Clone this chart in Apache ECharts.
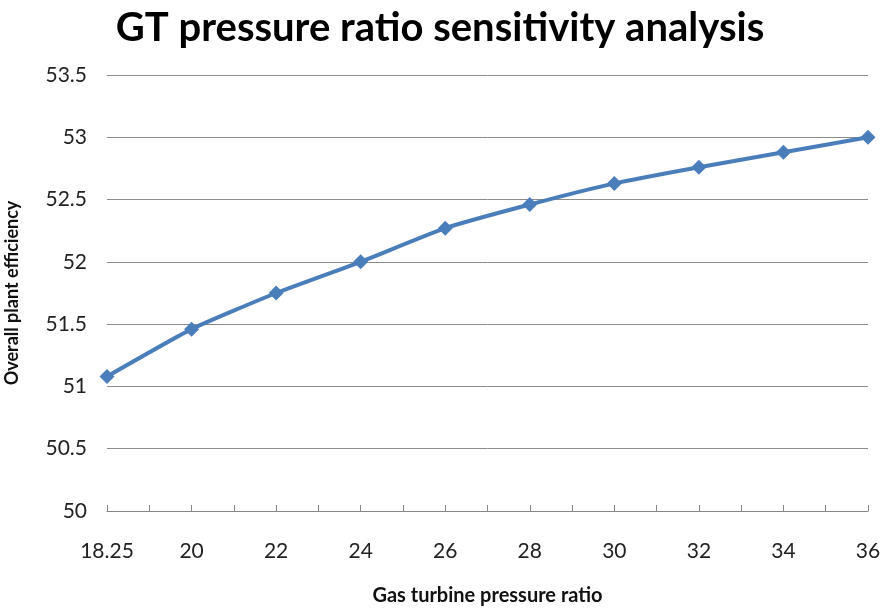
<!DOCTYPE html>
<html><head><meta charset="utf-8">
<script src="https://cdn.jsdelivr.net/npm/echarts@6/dist/echarts.min.js"></script>
<style>html,body{margin:0;padding:0;background:#fff}#c{width:880px;height:609px}</style>
</head><body><div id="c"></div>
<script>
const categories = ['18.25','20','22','24','26','28','30','32','34','36'];
const efficiency = [51.08, 51.46, 51.75, 52.0, 52.27, 52.46, 52.63, 52.76, 52.88, 53.0];
const yMin = 50, yMax = 53.5, yStep = 0.5;
const titleText = 'GT pressure ratio sensitivity analysis';
const xName = 'Gas turbine pressure ratio';
const yName = 'Overall plant efficiency';

// tick-only axis: categories plus midpoints
const tickCats = [];
categories.forEach((c, i) => { tickCats.push(c); if (i < categories.length - 1) tickCats.push(''); });

const font = 'Lato, "Open Sans", sans-serif';
const chart = echarts.init(document.getElementById('c'));
chart.setOption({
  animation: false,
  title: { text: titleText, left: 'center', top: 3,
    textStyle: { fontFamily: font, fontSize: 40, fontWeight: 'bold', color: '#000' } },
  grid: { left: 107, right: 12, top: 75, bottom: 98, outerBoundsMode: 'none', containLabel: false },
  xAxis: [{
    type: 'category', data: categories, boundaryGap: false,
    axisLine: { show: true, lineStyle: { color: '#868686', width: 1 } },
    axisTick: { show: false },
    axisLabel: { fontFamily: font, fontSize: 21, color: '#222', margin: 30 },
    name: xName, nameLocation: 'middle', nameGap: 75,
    nameTextStyle: { fontFamily: font, fontSize: 20, fontWeight: 'bold', color: '#111' }
  }, {
    type: 'category', data: tickCats, boundaryGap: false, position: 'bottom',
    axisLine: { show: false },
    axisTick: { show: true, inside: true, length: 6, lineStyle: { color: '#868686' } },
    axisLabel: { show: false }
  }],
  yAxis: {
    type: 'value', min: yMin, max: yMax, interval: yStep,
    axisLine: { show: false }, axisTick: { show: false },
    splitLine: { lineStyle: { color: '#8c8c8c', width: 1 } },
    axisLabel: { fontFamily: font, fontSize: 21, color: '#222', margin: 20 },
    name: yName, nameLocation: 'middle', nameGap: 86, nameRotate: 90,
    nameTextStyle: { fontFamily: font, fontSize: 18, fontWeight: 'bold', color: '#111' }
  },
  series: [{
    type: 'line', data: efficiency, xAxisIndex: 0,
    smooth: 0.15,
    lineStyle: { color: '#4a7ebb', width: 4 },
    itemStyle: { color: '#4a7ebb' },
    symbol: 'diamond', symbolSize: 15, showSymbol: true
  }]
});
</script></body></html>
